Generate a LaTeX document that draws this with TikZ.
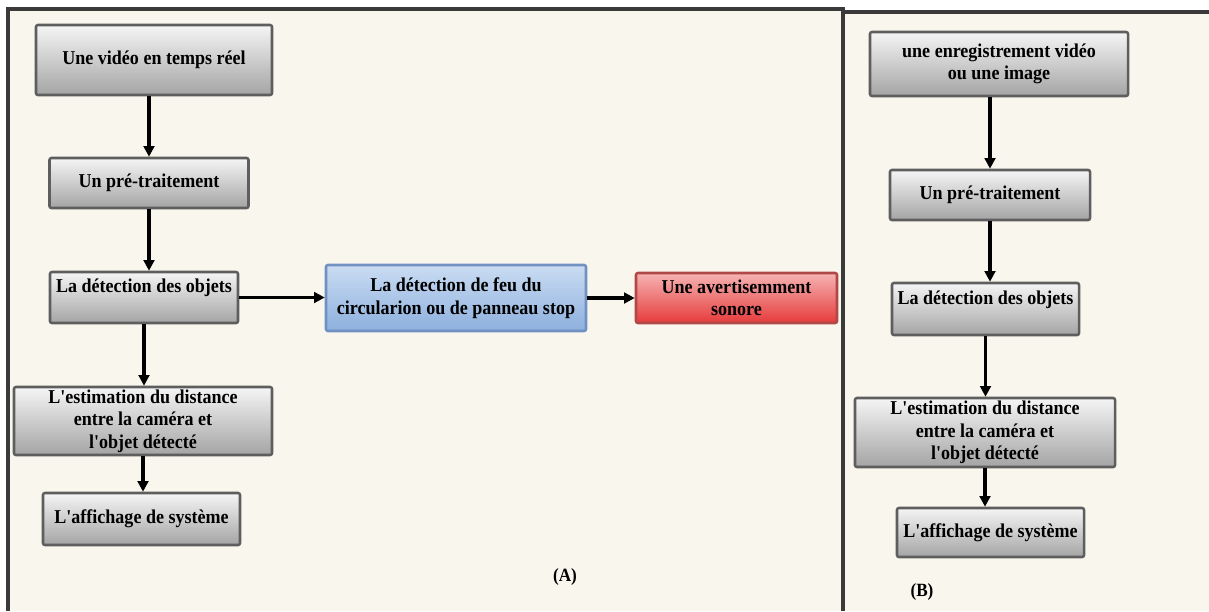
\documentclass[tikz,border=0pt]{standalone}
\usepackage{fontspec}
\setmainfont{Liberation Serif}[Ligatures=TeXOff, FakeStretch=0.92]
\usetikzlibrary{arrows.meta}

\definecolor{paper}{HTML}{F9F6EE}
\definecolor{frameline}{HTML}{3A3A3A}
\definecolor{boxline}{HTML}{5E5E5E}
\definecolor{greytop}{HTML}{F5F5F5}
\definecolor{greybot}{HTML}{A4A4A4}
\definecolor{bluetop}{HTML}{CADCF2}
\definecolor{bluebot}{HTML}{8DB0DE}
\definecolor{blueline}{HTML}{7191C2}
\definecolor{redtop}{HTML}{F6B3B3}
\definecolor{redbot}{HTML}{E63B3B}
\definecolor{redline}{HTML}{B04848}

\tikzset{
  frame/.style={draw=frameline, line width=2.3pt},
  stepbox/.style={rectangle, rounded corners=1.5pt, draw=boxline, line width=1.9pt,
    top color=greytop, bottom color=greybot, align=center, inner sep=2pt,
    font=\bfseries\fontsize{14.7}{16.8}\selectfont, text=black},
  bluebox/.style={stepbox, draw=blueline, top color=bluetop, bottom color=bluebot},
  redbox/.style={stepbox, draw=redline, top color=redtop, bottom color=redbot},
  raised/.style={text height=10pt, text depth=17.5pt},
  flow/.style={draw=black, line width=2.6pt, -{Triangle[length=8pt,width=8pt]}},
  panellabel/.style={font=\bfseries\fontsize{14}{15}\selectfont, inner sep=0pt}
}

\begin{document}
\begin{tikzpicture}[x=0.75pt, y=-0.75pt]
\useasboundingbox (0,0) rectangle (1209,611);
\fill[white] (0,0) rectangle (1209,611);

% panel backgrounds and frames
\fill[paper] (8,9) rectangle (843,611);
\fill[paper] (843,12) rectangle (1209,611);
\draw[frame] (8,611) -- (8,9) -- (843,9) -- (843,611);
\draw[frame] (843,12) -- (1209,12);

% panel (A): real-time pipeline
\node[stepbox, minimum width=177pt, minimum height=52.5pt] (a1) at (154,60)
  {Une vidéo en temps réel};
\node[stepbox, minimum width=149.25pt, minimum height=37.5pt] (a2) at (149,183)
  {Un pré-traitement};
\node[stepbox, raised, minimum width=141pt, minimum height=38.25pt] (a3) at (144,297.5)
  {La détection des objets};
\node[stepbox, minimum width=193.5pt, minimum height=51pt] (a4) at (143,421)
  {L'estimation du distance\\entre la caméra et\\l'objet détecté};
\node[stepbox, minimum width=147.75pt, minimum height=39pt] (a5) at (141.5,519)
  {L'affichage de système};
\node[bluebox, minimum width=195pt, minimum height=49.5pt] (feu) at (456,298)
  {La détection de feu du\\circularion ou de panneau stop};
\node[redbox, minimum width=150.75pt, minimum height=37.5pt] (alerte) at (736.5,298)
  {Une avertisemment\\sonore};

\draw[flow] (a1.south -| a2.north) -- (a2.north);
\draw[flow] (a2.south) -- (a2.south |- a3.north);
\draw[flow] (a3.south) -- (a3.south |- a4.north);
\draw[flow] (a4.south) -- (a4.south |- a5.north);
\draw[flow] (a3.east) -- (feu.west |- a3.east);
\draw[flow] (feu.east) -- (alerte.west);

\node[panellabel] (labA) at (565,577) {(A)};

% panel (B): recorded video or image
\node[stepbox, minimum width=193.5pt, minimum height=48pt] (b1) at (999,64)
  {une enregistrement vidéo\\ou une image};
\node[stepbox, minimum width=150pt, minimum height=37.5pt] (b2) at (990,195)
  {Un pré-traitement};
\node[stepbox, raised, minimum width=140.25pt, minimum height=39pt] (b3) at (985.5,309)
  {La détection des objets};
\node[stepbox, minimum width=195pt, minimum height=51.75pt] (b4) at (985,432.5)
  {L'estimation du distance\\entre la caméra et\\l'objet détecté};
\node[stepbox, minimum width=140.25pt, minimum height=36.75pt] (b5) at (990.5,532.5)
  {L'affichage de système};

\draw[flow] (b1.south -| b2.north) -- (b2.north);
\draw[flow] (b2.south) -- (b2.south |- b3.north);
\draw[flow] (b3.south) -- (b3.south |- b4.north);
\draw[flow] (b4.south) -- (b4.south |- b5.north);

\node[panellabel] (labB) at (922,592) {(B)};
\end{tikzpicture}
\end{document}
